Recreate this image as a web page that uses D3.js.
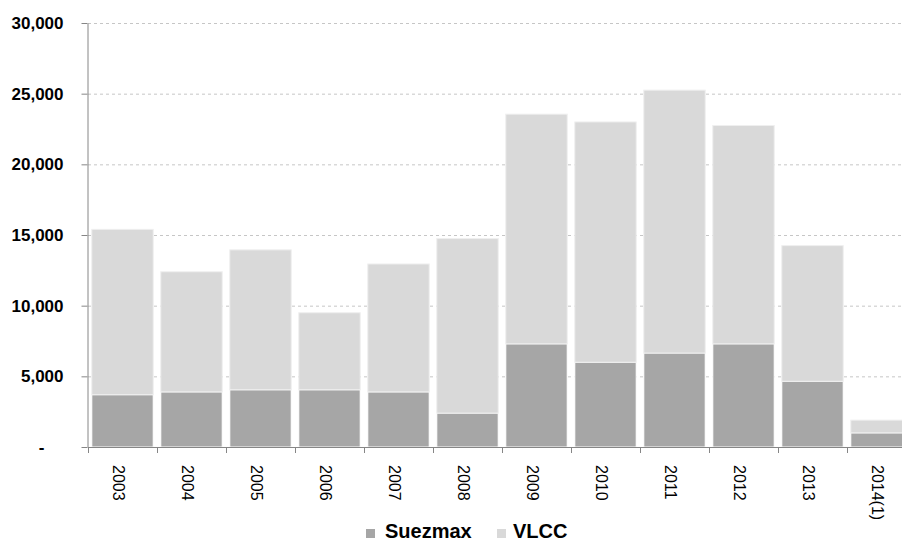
<!DOCTYPE html>
<html>
<head>
<meta charset="utf-8">
<script src="https://cdn.jsdelivr.net/npm/d3@7"></script>
<style>
  body { margin: 0; background: #fff; }
  text { font-family: "Liberation Sans", Arial, sans-serif; }
</style>
</head>
<body>
<div id="chart"></div>
<script>
// données
const years = ["2003", "2004", "2005", "2006", "2007", "2008", "2009", "2010", "2011", "2012", "2013", "2014(1)"];
const suezmax = [3700, 3900, 4050, 4050, 3900, 2400, 7300, 6000, 6650, 7300, 4650, 1000];
const vlcc = [11700, 8500, 9900, 5450, 9050, 12350, 16250, 17000, 18600, 15450, 9600, 900];
const yTicks = [0, 5000, 10000, 15000, 20000, 25000, 30000];
const seriesNames = ["Suezmax", "VLCC"];
const seriesColors = ["#a6a6a6", "#d9d9d9"];

const W = 902, H = 542;
const plot = { left: 88, right: 916, top: 23, bottom: 447 };

const svg = d3.select("#chart").append("svg")
    .attr("width", W)
    .attr("height", H);

const rows = years.map((y, i) => ({ year: y, Suezmax: suezmax[i], VLCC: vlcc[i] }));
const stacked = d3.stack().keys(seriesNames)(rows);

const x = d3.scaleBand()
    .domain(years)
    .range([plot.left, plot.right])
    .paddingInner(0.11)
    .paddingOuter(0.055);

const y = d3.scaleLinear()
    .domain([0, 30000])
    .range([plot.bottom, plot.top]);

// grille pointillée
svg.append("g")
    .attr("transform", `translate(${plot.left},0)`)
    .call(d3.axisLeft(y).tickValues(yTicks.filter(d => d > 0)).tickSize(-(plot.right - plot.left)).tickFormat(""))
    .call(g => g.select(".domain").remove())
    .selectAll("line")
    .attr("stroke", "#c6c6c6")
    .attr("stroke-dasharray", "3,3");

// barres empilées
svg.append("g").selectAll("g")
    .data(stacked)
    .enter()
    .append("g")
    .attr("fill", (d, i) => seriesColors[i])
    .attr("stroke", (d, i) => i === 0 ? "#ffffff" : "#efefef")
    .selectAll("rect")
    .data(d => d)
    .enter()
    .append("rect")
    .attr("x", d => x(d.data.year))
    .attr("y", d => y(d[1]))
    .attr("width", x.bandwidth())
    .attr("height", d => y(d[0]) - y(d[1]));

// axe Y
const yAxis = svg.append("g")
    .attr("transform", `translate(${plot.left - 0.5},0)`)
    .call(d3.axisLeft(y).tickValues(yTicks).tickSize(6).tickSizeOuter(0).tickPadding(18)
        .tickFormat(d => d === 0 ? "-" : d3.format(",")(d)));
yAxis.select(".domain").attr("stroke", "#868686");
yAxis.selectAll("line").attr("stroke", "#868686");
yAxis.selectAll("text")
    .attr("fill", "#000")
    .style("font-size", "17px")
    .style("font-weight", "bold")
    .attr("dx", d => d === 0 ? -19 : 0);

// axe X : traits entre les catégories
const xBounds = d3.scaleLinear().domain([0, years.length]).range([plot.left, plot.right]);
const xAxisTicks = svg.append("g")
    .attr("transform", `translate(0,${plot.bottom})`)
    .call(d3.axisBottom(xBounds).ticks(years.length).tickSize(6).tickSizeOuter(0).tickFormat(""));
xAxisTicks.select(".domain").attr("stroke", "#868686");
xAxisTicks.selectAll("line").attr("stroke", "#868686");

// libellés des années (tournés)
const xLabels = svg.append("g")
    .attr("transform", `translate(0,${plot.bottom})`)
    .call(d3.axisBottom(x).tickSize(0));
xLabels.select(".domain").remove();
xLabels.selectAll("text")
    .attr("fill", "#000")
    .style("font-size", "16px")
    .attr("transform", "rotate(90)")
    .attr("text-anchor", "start")
    .attr("x", 18)
    .attr("y", 4)
    .attr("dy", "0.35em");

// légende
const legendX = [366, 497];
const legend = svg.append("g").selectAll("g")
    .data(seriesNames)
    .enter()
    .append("g")
    .attr("transform", (d, i) => `translate(${legendX[i]},538)`);

legend.append("rect")
    .attr("x", 0)
    .attr("y", -9)
    .attr("width", 9)
    .attr("height", 9)
    .attr("fill", (d, i) => seriesColors[i]);

legend.append("text")
    .attr("x", (d, i) => i === 0 ? 19 : 16)
    .attr("y", 0)
    .style("font-size", "20px")
    .style("font-weight", "bold")
    .text(d => d);
</script>
</body>
</html>
